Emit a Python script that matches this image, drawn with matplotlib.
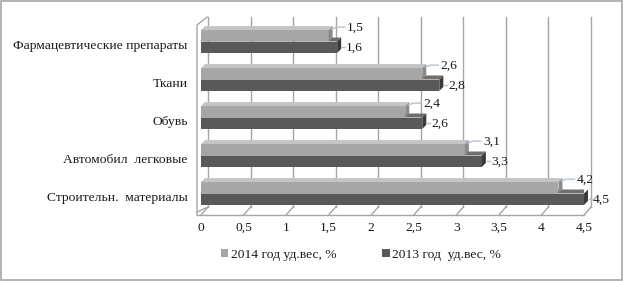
import matplotlib
matplotlib.use("Agg")
import matplotlib.pyplot as plt
from matplotlib.patches import Polygon, Patch, Rectangle
import numpy as np

# ---- data ----
categories = ["Фармацевтические препараты", "Ткани", "Обувь",
              "Автомобил  легковые", "Строительн.  материалы"]
values_2014 = [1.5, 2.6, 2.4, 3.1, 4.2]
values_2013 = [1.6, 2.8, 2.6, 3.3, 4.5]
series_labels = ["2014 год уд.вес, %", "2013 год  уд.вес, %"]
x_ticks = [0, 0.5, 1, 1.5, 2, 2.5, 3, 3.5, 4, 4.5]
x_tick_labels = ["0", "0,5", "1", "1,5", "2", "2,5", "3", "3,5", "4", "4,5"]

# ---- style ----
FONT = "Liberation Serif"
plt.rcParams["font.family"] = [FONT, "DejaVu Serif"]
FS = 9.7
C_LIGHT = "#a6a6a6"
C_LIGHT_TOP = "#c4c4c4"
C_LIGHT_CAP = "#8a8a8a"
C_DARK = "#595959"
C_DARK_TOP = "#6f6f6f"
C_DARK_CAP = "#3a3a3a"
C_GRID = "#a6a6a6"
C_LEADER = "#b4c2d4"
C_TEXT = "#1a1a1a"

W, H = 623, 281
fig = plt.figure(figsize=(W / 100, H / 100), dpi=100)
ax = fig.add_axes([201 / W, 1 - 215 / H, 383 / W, 198 / H])
ax.set_facecolor("none")

PXX = 383 / 4.5   # pixels per x unit
PXY = 38.0        # pixels per category
top_lim = (17 - 41.5) / PXY
bot_lim = (215 - 41.5) / PXY
ax.set_xlim(0, 4.5)
ax.set_ylim(bot_lim, top_lim)

DXW = 7 / PXX             # wall depth
back_floor = (207 - 41.5) / PXY
front_floor = bot_lim

# back wall grid lines and floor
for t in x_ticks:
    ax.plot([t + DXW, t + DXW], [top_lim, back_floor], color=C_GRID, lw=1, zorder=1, clip_on=False)
    ax.plot([t + DXW, t], [back_floor, front_floor], color=C_GRID, lw=1, zorder=1, clip_on=False)
xl = -4 / PXX
ax.plot([xl, 4.5], [front_floor, front_floor], color=C_GRID, lw=1, zorder=1, clip_on=False)
ax.plot([xl, xl, DXW - 0.01], [front_floor, (25 - 41.5) / PXY, top_lim],
        color=C_GRID, lw=1, zorder=1, clip_on=False)
ax.plot([xl, DXW], [front_floor - 3 / PXY, back_floor], color=C_GRID, lw=1, zorder=1, clip_on=False)

# bars
y = np.arange(len(categories))
bh = 0.3
dx = 4 / PXX
dy = 4 / PXY


def bar3d(yc, vals, c, ctop, ccap, z):
    ax.barh(yc, vals, height=bh, color=c, zorder=z, linewidth=0)
    for yy, v in zip(yc, vals):
        yt = yy - bh / 2
        yb = yy + bh / 2
        ax.add_patch(Polygon([(0, yt), (v, yt), (v + dx, yt - dy), (dx, yt - dy)],
                             closed=True, facecolor=ctop, edgecolor="none", zorder=z))
        ax.add_patch(Polygon([(v, yt), (v + dx, yt - dy), (v + dx, yb - dy), (v, yb)],
                             closed=True, facecolor=ccap, edgecolor="none", zorder=z,
                             clip_on=False))


bar3d(y + bh / 2, values_2013, C_DARK, C_DARK_TOP, C_DARK_CAP, 3)
bar3d(y - bh / 2, values_2014, C_LIGHT, C_LIGHT_TOP, C_LIGHT_CAP, 4)


def fmt(v):
    return f"{v:.1f}".replace(".", ",")


for yy, v in zip(y, values_2014):
    yt = yy - bh
    ly = yt - 3 / PXY
    ax.plot([v + 3 / PXX, v + 8 / PXX, v + 16 / PXX], [yt - 1 / PXY, ly, ly],
            color=C_LEADER, lw=1, zorder=5, clip_on=False)
    ax.text(v + 18 / PXX, yt - 2 / PXY, fmt(v), ha="left", va="center",
            fontsize=FS, color=C_TEXT, zorder=6, clip_on=False)
for yy, v in zip(y, values_2013):
    yc = yy + bh / 2
    ax.plot([v + 5 / PXX, v + 8 / PXX], [yc, yc], color=C_LEADER, lw=1, zorder=5, clip_on=False)
    ax.text(v + 9 / PXX, yc + 1 / PXY, fmt(v), ha="left", va="center",
            fontsize=FS, color=C_TEXT, zorder=6, clip_on=False)

# axes ticks
ax.set_xticks(x_ticks)
ax.set_xticklabels(x_tick_labels, fontsize=FS, color=C_TEXT)
ax.set_yticks(y + 0.08)
ax.set_yticklabels(categories, fontsize=FS, color=C_TEXT)
ax.tick_params(axis="x", length=0, pad=5)
ax.tick_params(axis="y", length=0, pad=9.5)
for s in ax.spines.values():
    s.set_visible(False)

# legend
handles = [Patch(facecolor=C_LIGHT, edgecolor="none"), Patch(facecolor=C_DARK, edgecolor="none")]
fig.legend(handles, series_labels, loc="center", bbox_to_anchor=(361 / W, 1 - 255 / H),
           ncol=2, frameon=False, fontsize=FS, handlelength=0.55, handleheight=0.55,
           handletextpad=0.2, columnspacing=3.4, labelcolor=C_TEXT)

# outer frame
fig.patches.append(Rectangle((0.5 / W, 1 - 279.5 / H), 621.5 / W, 279 / H,
                             transform=fig.transFigure, fill=False,
                             edgecolor="#a6a6a6", linewidth=1.2))

fig.savefig("out.png", dpi=100)
